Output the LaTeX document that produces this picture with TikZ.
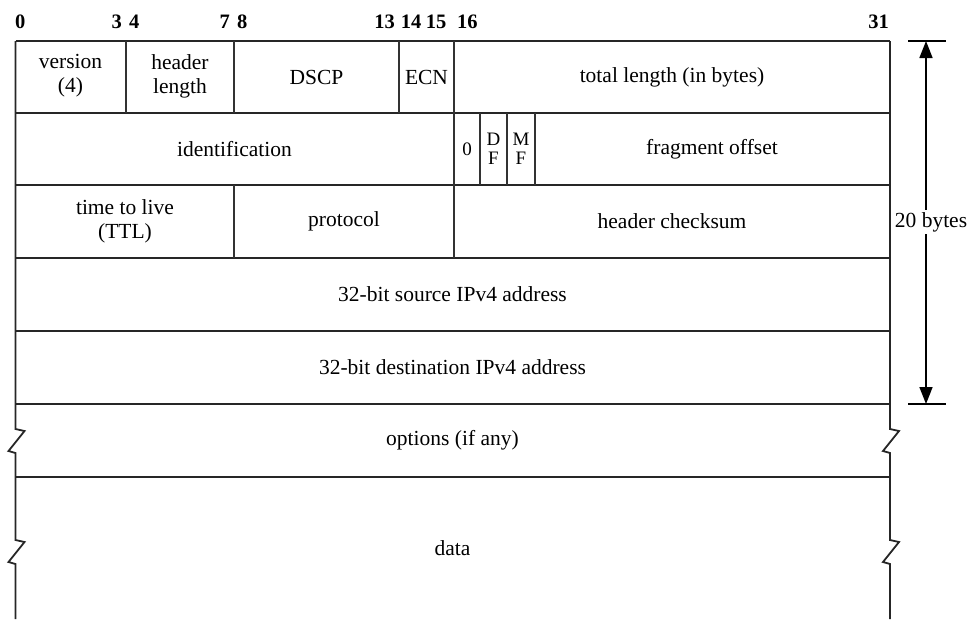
\documentclass[tikz,border=0pt]{standalone}
\usepackage{fontspec}
\setmainfont{Liberation Serif}
\usetikzlibrary{arrows.meta}
\begin{document}
\begin{tikzpicture}[x=1pt,y=-1pt,
  frame/.style={draw=black!85,line width=1.8pt},
  inner/.style={draw=black!80,line width=1.6pt},
  lbl/.style={font=\fontsize{21.5}{24}\selectfont,align=center,inner sep=0pt},
  small/.style={font=\fontsize{19}{19}\selectfont,align=center,inner sep=0pt},
  bitno/.style={font=\fontsize{20.5}{20}\selectfont\bfseries,inner sep=0pt},
  dim/.style={draw=black,line width=1.6pt}]
\useasboundingbox (0,0) rectangle (969,619);
% outer horizontal lines
\foreach \yy in {41,113,185,258,331,404,477}
  \draw[frame] (15.5,\yy) -- (890,\yy);
% left and right edges with break marks
\foreach \xx in {15.5,890}{
  \draw[frame,line join=miter] (\xx,41) -- (\xx,429) -- (\xx+9,431) -- (\xx-7,451) -- (\xx,453)
     -- (\xx,540) -- (\xx+9,542) -- (\xx-7,562) -- (\xx,564) -- (\xx,619);
}
% row 1 dividers
\foreach \xx in {126,234,399,454}
  \draw[inner] (\xx,41) -- (\xx,113);
% row 2 dividers
\foreach \xx in {454,480,507,535}
  \draw[inner] (\xx,113) -- (\xx,185);
% row 3 dividers
\foreach \xx in {234,454}
  \draw[inner] (\xx,185) -- (\xx,258);
% bit numbers
\node[bitno,anchor=base west] (b0) at (15,28) {0};
\node[bitno,anchor=base east] (b3) at (122,28) {3};
\node[bitno,anchor=base west] (b4) at (129,28) {4};
\node[bitno,anchor=base east] (b7) at (230,28) {7};
\node[bitno,anchor=base west] (b8) at (237,28) {8};
\node[bitno,anchor=base east] (b13) at (395,28) {13};
\node[bitno,anchor=base] (b14) at (411,28) {14};
\node[bitno,anchor=base] (b15) at (436,28) {15};
\node[bitno,anchor=base west] (b16) at (457,28) {16};
\node[bitno,anchor=base east] (b31) at (889,28) {31};
% row 1
\node[lbl] (ver) at (70.5,76) {version\\(4)};
\node[lbl] (hl) at (180,76) {header\\length};
\node[lbl] (dscp) at (316.5,77) {DSCP};
\node[lbl] (ecn) at (426.5,77) {ECN};
\node[lbl] (tl) at (672,77) {total length (in bytes)};
% row 2
\node[lbl] (id) at (234.5,149) {identification};
\node[small] (z) at (467,149) {0};
\node[small] (df) at (493.5,149) {D\\F};
\node[small] (mf) at (521,149) {M\\F};
\node[lbl] (fo) at (712,149) {fragment offset};
% row 3
\node[lbl] (ttl) at (125,221) {time to live\\(TTL)};
\node[lbl] (proto) at (344,221) {protocol};
\node[lbl] (hc) at (672,221) {header checksum};
% rows 4-7
\node[lbl] (src) at (452.5,294) {32-bit source IPv4 address};
\node[lbl] (dst) at (452.5,367) {32-bit destination IPv4 address};
\node[lbl] (opt) at (452.5,440) {options (if any)};
\node[lbl] (data) at (452.5,548) {data};
% dimension
\coordinate (dt) at (926,41);
\coordinate (db) at (926,404);
\draw[dim] (908,41) -- (946,41);
\draw[dim] (908,404) -- (946,404);
\draw[dim,{Triangle[width=13pt,length=17pt]}-{Triangle[width=13pt,length=17pt]}] (dt) -- (db);
\node[lbl,fill=white,inner sep=2pt] (bytes) at (931,222) {20 bytes};
\end{tikzpicture}
\end{document}
